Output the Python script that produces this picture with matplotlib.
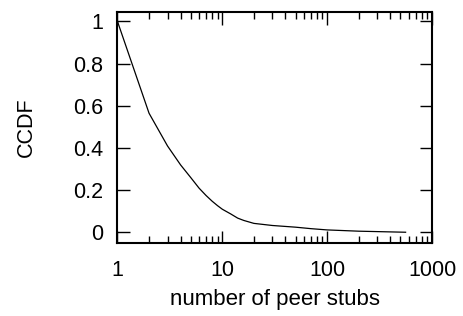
import matplotlib
matplotlib.use('Agg')
import matplotlib.pyplot as plt
from matplotlib.ticker import LogLocator, NullFormatter

plt.rcParams['font.family'] = ['Liberation Sans', 'DejaVu Sans']

# CCDF
stubs = [1, 2, 3, 4, 5, 6, 7, 8, 9, 10, 12, 14, 16, 20, 30, 50, 70, 100, 200, 560]
ccdf = [1.0, 0.565, 0.41, 0.32, 0.26, 0.21, 0.175, 0.148, 0.127, 0.11, 0.088,
        0.068, 0.057, 0.043, 0.033, 0.025, 0.018, 0.012, 0.006, 0.001]

xticks = [1, 10, 100, 1000]
xtick_labels = ['1', '10', '100', '1000']
yticks = [0, 0.2, 0.4, 0.6, 0.8, 1]
ytick_labels = ['0', '0.2', '0.4', '0.6', '0.8', '1']

fig = plt.figure(figsize=(4.64, 3.16), dpi=100)
ax = fig.add_axes([117.5 / 464, 1 - 243 / 316, (432 - 117.5) / 464, (243 - 12) / 316])

ax.plot(stubs, ccdf, color='black', lw=0.9)
ax.set_xscale('log')
ax.set_xlim(1, 1000)
ax.set_ylim(-0.05, 1.045)

ax.set_xticks(xticks)
ax.set_xticklabels(xtick_labels)
ax.xaxis.set_minor_locator(LogLocator(base=10, subs=range(2, 10)))
ax.xaxis.set_minor_formatter(NullFormatter())
ax.set_yticks(yticks)
ax.set_yticklabels(ytick_labels)

ax.tick_params(which='major', direction='in', length=9, width=1, top=True, right=True,
               labelsize=15.5)
ax.tick_params(axis='y', which='major', pad=10)
ax.tick_params(axis='x', which='major', pad=12)
ax.tick_params(which='minor', direction='in', length=5, width=1, top=True, right=True)
for s in ax.spines.values():
    s.set_linewidth(1.5)

ax.set_xlabel('number of peer stubs', fontsize=16, labelpad=6)
ax.set_ylabel('CCDF', fontsize=15.5)
ax.yaxis.set_label_coords(-0.255, 0.5)

plt.savefig('out.png', dpi=100)
